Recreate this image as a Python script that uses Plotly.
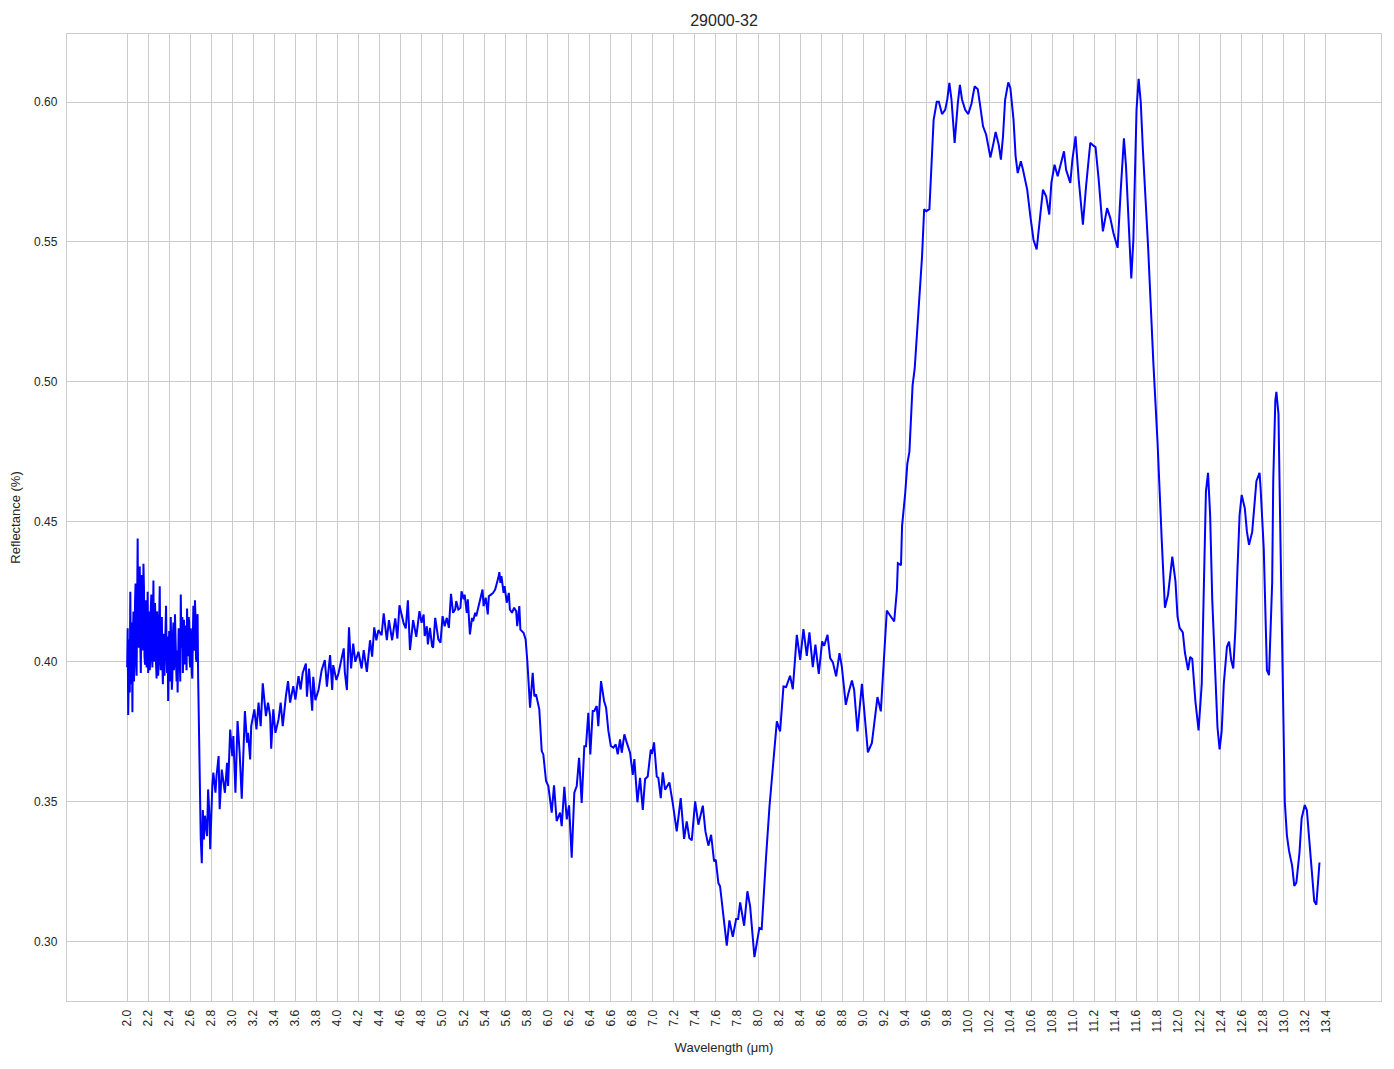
import plotly.graph_objects as go

# ---------------- data ----------------
# segment 1: very noisy start, 2.000-2.670 um
wl_seg1 = [2.000, 2.005, 2.010, 2.015, 2.020, 2.025, 2.030, 2.035, 2.040, 2.045,
           2.050, 2.055, 2.060, 2.065, 2.070, 2.075, 2.080, 2.085, 2.090, 2.095,
           2.100, 2.105, 2.110, 2.115, 2.120, 2.125, 2.130, 2.135, 2.140, 2.145,
           2.150, 2.155, 2.160, 2.165, 2.170, 2.175, 2.180, 2.185, 2.190, 2.195,
           2.200, 2.205, 2.210, 2.215, 2.220, 2.225, 2.230, 2.235, 2.240, 2.245,
           2.250, 2.255, 2.260, 2.265, 2.270, 2.275, 2.280, 2.285, 2.290, 2.295,
           2.300, 2.305, 2.310, 2.315, 2.320, 2.325, 2.330, 2.335, 2.340, 2.345,
           2.350, 2.355, 2.360, 2.365, 2.370, 2.375, 2.380, 2.385, 2.390, 2.395,
           2.400, 2.405, 2.410, 2.415, 2.420, 2.425, 2.430, 2.435, 2.440, 2.445,
           2.450, 2.455, 2.460, 2.465, 2.470, 2.475, 2.480, 2.485, 2.490, 2.495,
           2.500, 2.505, 2.510, 2.515, 2.520, 2.525, 2.530, 2.535, 2.540, 2.545,
           2.550, 2.555, 2.560, 2.565, 2.570, 2.575, 2.580, 2.585, 2.590, 2.595,
           2.600, 2.605, 2.610, 2.615, 2.620, 2.625, 2.630, 2.635, 2.640, 2.645,
           2.650, 2.655, 2.660, 2.665, 2.670]
refl_seg1 = [0.398, 0.412, 0.381, 0.404, 0.408, 0.389, 0.425, 0.401, 0.392, 0.414,
             0.382, 0.409, 0.418, 0.393, 0.401, 0.421, 0.428, 0.403, 0.395, 0.420,
             0.444, 0.412, 0.405, 0.428, 0.434, 0.407, 0.396, 0.419, 0.431, 0.404,
             0.409, 0.435, 0.426, 0.402, 0.399, 0.417, 0.422, 0.398, 0.404, 0.425,
             0.396, 0.409, 0.418, 0.397, 0.401, 0.419, 0.424, 0.405, 0.398, 0.413,
             0.429, 0.400, 0.405, 0.421, 0.415, 0.399, 0.394, 0.418, 0.412, 0.395,
             0.400, 0.415, 0.427, 0.404, 0.397, 0.409, 0.416, 0.399, 0.392, 0.406,
             0.410, 0.395, 0.401, 0.414, 0.420, 0.404, 0.396, 0.409, 0.386, 0.402,
             0.411, 0.393, 0.398, 0.416, 0.403, 0.390, 0.394, 0.409, 0.414, 0.397,
             0.400, 0.417, 0.408, 0.398, 0.393, 0.404, 0.389, 0.401, 0.412, 0.397,
             0.402, 0.393, 0.424, 0.409, 0.405, 0.416, 0.396, 0.404, 0.415, 0.403,
             0.399, 0.413, 0.410, 0.397, 0.419, 0.407, 0.402, 0.416, 0.414, 0.400,
             0.398, 0.412, 0.408, 0.396, 0.394, 0.409, 0.420, 0.404, 0.406, 0.422,
             0.416, 0.401, 0.400, 0.415, 0.417]

# segment 2: drop and noisy rise, 2.675-3.67 um
wl_seg2 = [2.675, 2.685, 2.69, 2.70, 2.71, 2.72, 2.73, 2.74, 2.76, 2.77,
           2.78, 2.79, 2.81, 2.82, 2.84, 2.85, 2.87, 2.88, 2.90, 2.93,
           2.95, 2.96, 2.98, 3.00, 3.01, 3.03, 3.05, 3.07, 3.09, 3.11,
           3.12, 3.14, 3.15, 3.17, 3.18, 3.21, 3.23, 3.25, 3.27, 3.29,
           3.32, 3.34, 3.36, 3.37, 3.39, 3.41, 3.44, 3.46, 3.48, 3.51,
           3.53, 3.55, 3.58, 3.60, 3.63, 3.65, 3.67]
refl_seg2 = [0.395, 0.3675, 0.346, 0.337, 0.328, 0.347, 0.3365, 0.345, 0.3377, 0.3544,
             0.3473, 0.333, 0.3556, 0.3604, 0.3532, 0.3592, 0.3663, 0.3473, 0.3615, 0.3532,
             0.3639, 0.3556, 0.3758, 0.3663, 0.3735, 0.3532, 0.3788, 0.3675, 0.3511, 0.3711,
             0.3824, 0.3711, 0.3746, 0.3651, 0.377, 0.383, 0.3758, 0.3854, 0.377, 0.3923,
             0.3806, 0.3854, 0.3806, 0.3689, 0.383, 0.3746, 0.3794, 0.3854, 0.377, 0.3877,
             0.3931, 0.3854, 0.3913, 0.3865, 0.3949, 0.3901, 0.3961]

# segment 3: 3.70-4.75 um
wl_seg3 = [3.70, 3.71, 3.73, 3.76, 3.77, 3.79, 3.82, 3.85, 3.88, 3.90,
           3.93, 3.95, 3.96, 3.99, 4.01, 4.04, 4.06, 4.07, 4.09, 4.11,
           4.13, 4.15, 4.17, 4.20, 4.23, 4.25, 4.28, 4.31, 4.33, 4.35,
           4.37, 4.39, 4.42, 4.44, 4.47, 4.49, 4.52, 4.55, 4.57, 4.59,
           4.63, 4.65, 4.67, 4.69, 4.72, 4.75]
refl_seg3 = [0.3994, 0.3875, 0.3976, 0.3825, 0.3946, 0.3863, 0.3899, 0.397, 0.4006, 0.3911,
             0.4024, 0.3899, 0.3988, 0.3935, 0.3958, 0.4006, 0.4048, 0.3964, 0.3899, 0.4123,
             0.3976, 0.4065, 0.4000, 0.4036, 0.3976, 0.4042, 0.3964, 0.4077, 0.4018, 0.4123,
             0.4077, 0.4113, 0.4095, 0.4173, 0.4077, 0.4149, 0.4077, 0.4155, 0.4083, 0.4202,
             0.4137, 0.4119, 0.422, 0.4042, 0.4149, 0.4089]

# segment 4: 4.78-5.79 um
wl_seg4 = [4.78, 4.80, 4.82, 4.83, 4.85, 4.86, 4.88, 4.90, 4.91, 4.93,
           4.94, 4.96, 4.98, 5.00, 5.02, 5.04, 5.06, 5.08, 5.10, 5.12,
           5.13, 5.15, 5.17, 5.18, 5.20, 5.21, 5.23, 5.24, 5.26, 5.28,
           5.29, 5.31, 5.32, 5.35, 5.36, 5.38, 5.39, 5.41, 5.43, 5.44,
           5.46, 5.48, 5.50, 5.51, 5.53, 5.54, 5.55, 5.56, 5.58, 5.59,
           5.61, 5.63, 5.64, 5.66, 5.68, 5.70, 5.71, 5.73, 5.74, 5.77,
           5.79]
refl_seg4 = [0.4181, 0.4139, 0.4169, 0.4092, 0.4127, 0.4062, 0.4121, 0.4056, 0.405, 0.4157,
             0.4127, 0.408, 0.4068, 0.4163, 0.4127, 0.4157, 0.4121, 0.4243, 0.4175, 0.4187,
             0.4217, 0.4187, 0.4193, 0.4252, 0.4223, 0.424, 0.4175, 0.4223, 0.4098, 0.4157,
             0.4145, 0.4175, 0.4163, 0.4211, 0.4229, 0.4258, 0.4199, 0.4229, 0.4169, 0.4234,
             0.424, 0.4246, 0.4258, 0.427, 0.430, 0.432, 0.4282, 0.4306, 0.4246, 0.427,
             0.4211, 0.4246, 0.4187, 0.4175, 0.4193, 0.4181, 0.4127, 0.4199, 0.4115, 0.4104,
             0.408]

# segment 5: 5.80-6.78 um
wl_seg5 = [5.806, 5.832, 5.857, 5.873, 5.889, 5.920, 5.943, 5.958, 5.984, 6.006,
           6.038, 6.060, 6.085, 6.117, 6.133, 6.158, 6.181, 6.203, 6.228, 6.253,
           6.276, 6.298, 6.323, 6.348, 6.364, 6.386, 6.405, 6.428, 6.443, 6.466,
           6.481, 6.507, 6.536, 6.555, 6.577, 6.600, 6.624, 6.647, 6.666, 6.688,
           6.704, 6.729, 6.752, 6.783]
refl_seg5 = [0.4002, 0.3836, 0.3961, 0.3877, 0.3883, 0.3830, 0.3681, 0.3669, 0.3574, 0.3556,
             0.3461, 0.3559, 0.3431, 0.3461, 0.3413, 0.3553, 0.3437, 0.3487, 0.3300, 0.3532,
             0.3556, 0.3657, 0.3496, 0.3698, 0.3698, 0.3818, 0.3669, 0.3824, 0.3824, 0.3842,
             0.3770, 0.3931, 0.3860, 0.3836, 0.3753, 0.3699, 0.3693, 0.3705, 0.3669, 0.3723,
             0.3675, 0.3741, 0.3711, 0.3675]

# segment 6: 6.81-8.01 um
wl_seg6 = [6.809, 6.824, 6.853, 6.878, 6.904, 6.926, 6.951, 6.980, 6.992, 7.011,
           7.037, 7.052, 7.075, 7.094, 7.116, 7.157, 7.189, 7.227, 7.265, 7.297,
           7.322, 7.347, 7.370, 7.402, 7.433, 7.475, 7.500, 7.528, 7.554, 7.582,
           7.598, 7.623, 7.639, 7.671, 7.703, 7.728, 7.760, 7.792, 7.811, 7.830,
           7.868, 7.899, 7.925, 7.966, 8.013]
refl_seg6 = [0.3596, 0.3652, 0.3498, 0.3585, 0.3471, 0.3581, 0.3590, 0.3686, 0.3671, 0.3712,
             0.3590, 0.3585, 0.3513, 0.3605, 0.3543, 0.3569, 0.3495, 0.3394, 0.3513, 0.3367,
             0.3430, 0.3370, 0.3362, 0.3501, 0.3418, 0.3486, 0.3394, 0.3343, 0.3382, 0.3287,
             0.3293, 0.3210, 0.3198, 0.3102, 0.2986, 0.3076, 0.3017, 0.3081, 0.3081, 0.3140,
             0.3057, 0.3180, 0.3126, 0.2945, 0.3049]

# segment 7: 8.03-9.32 um
wl_seg7 = [8.035, 8.058, 8.077, 8.109, 8.131, 8.153, 8.179, 8.210, 8.242, 8.267,
           8.305, 8.331, 8.369, 8.401, 8.432, 8.464, 8.489, 8.521, 8.546, 8.578,
           8.610, 8.629, 8.661, 8.686, 8.712, 8.743, 8.775, 8.797, 8.835, 8.860,
           8.893, 8.914, 8.946, 8.988, 9.010, 9.045, 9.083, 9.136, 9.168, 9.200,
           9.225, 9.263, 9.295, 9.321]
refl_seg7 = [0.3045, 0.3210, 0.3305, 0.3483, 0.3579, 0.3662, 0.3787, 0.3751, 0.3912, 0.3910,
             0.3950, 0.3902, 0.4096, 0.4007, 0.4117, 0.4021, 0.4105, 0.3981, 0.4061, 0.3957,
             0.4073, 0.4057, 0.4096, 0.4013, 0.3998, 0.3948, 0.4031, 0.3983, 0.3846, 0.3888,
             0.3933, 0.3900, 0.3751, 0.3921, 0.3829, 0.3676, 0.3710, 0.3874, 0.3823, 0.4037,
             0.4183, 0.4162, 0.4144, 0.4257]

# segment 8: 9.33-10.29 um
wl_seg8 = [9.33, 9.36, 9.37, 9.40, 9.42, 9.44, 9.45, 9.47, 9.49, 9.51,
           9.53, 9.56, 9.58, 9.60, 9.63, 9.65, 9.67, 9.70, 9.72, 9.75,
           9.78, 9.80, 9.82, 9.84, 9.86, 9.87, 9.90, 9.92, 9.94, 9.97,
           10.00, 10.03, 10.06, 10.09, 10.11, 10.14, 10.17, 10.19, 10.21, 10.24,
           10.26, 10.29]
refl_seg8 = [0.4352, 0.4345, 0.4485, 0.4603, 0.4707, 0.4751, 0.4855, 0.4988, 0.5047, 0.5166,
             0.5299, 0.5447, 0.5617, 0.5610, 0.5617, 0.5787, 0.5935, 0.6001, 0.6001, 0.5957,
             0.5972, 0.6009, 0.6068, 0.6009, 0.5905, 0.5854, 0.5994, 0.6061, 0.6009, 0.5972,
             0.5957, 0.5994, 0.6056, 0.6046, 0.5994, 0.5913, 0.5883, 0.5839, 0.5802, 0.5854,
             0.5893, 0.5846]

# segment 9: 10.31-11.45 um
wl_seg9 = [10.31, 10.33, 10.35, 10.38, 10.40, 10.43, 10.45, 10.47, 10.50, 10.52,
           10.56, 10.59, 10.62, 10.65, 10.67, 10.71, 10.74, 10.77, 10.79, 10.82,
           10.85, 10.91, 10.93, 10.97, 10.99, 11.02, 11.05, 11.09, 11.12, 11.16,
           11.19, 11.21, 11.24, 11.28, 11.32, 11.35, 11.38, 11.42, 11.45]
refl_seg9 = [0.5794, 0.5877, 0.6008, 0.6070, 0.6050, 0.5937, 0.5806, 0.5746, 0.5788, 0.5758,
             0.5687, 0.5592, 0.5508, 0.5473, 0.5544, 0.5687, 0.5663, 0.5598, 0.5711, 0.5776,
             0.5735, 0.5824, 0.5758, 0.5711, 0.5794, 0.5877, 0.5723, 0.5562, 0.5699, 0.5854,
             0.5844, 0.5839, 0.5723, 0.5538, 0.5621, 0.5586, 0.5532, 0.5479, 0.5687]

# segment 10: 11.48-12.19 um
wl_seg10 = [11.48, 11.50, 11.53, 11.55, 11.57, 11.60, 11.62, 11.64, 11.66, 11.71,
            11.76, 11.80, 11.84, 11.87, 11.90, 11.94, 11.97, 11.99, 12.01, 12.04,
            12.06, 12.09, 12.11, 12.13, 12.16, 12.19]
refl_seg10 = [0.5870, 0.5770, 0.5544, 0.5370, 0.5508, 0.5973, 0.6083, 0.6000, 0.5833, 0.5482,
              0.5068, 0.4782, 0.4432, 0.4193, 0.4240, 0.4376, 0.4288, 0.4161, 0.4121, 0.4105,
              0.4033, 0.3970, 0.4017, 0.4010, 0.3858, 0.3755]

# segment 11: 12.22-13.34 um
wl_seg11 = [12.22, 12.24, 12.26, 12.28, 12.30, 12.32, 12.35, 12.37, 12.39, 12.41,
            12.43, 12.46, 12.48, 12.50, 12.52, 12.54, 12.56, 12.58, 12.60, 12.63,
            12.65, 12.67, 12.70, 12.72, 12.74, 12.77, 12.78, 12.81, 12.83, 12.84,
            12.86, 12.89, 12.90, 12.92, 12.93, 12.95, 12.97, 12.99, 13.01, 13.03,
            13.05, 13.08, 13.10, 13.12, 13.15, 13.17, 13.20, 13.22, 13.24, 13.27,
            13.29, 13.31, 13.32, 13.34]
refl_seg11 = [0.3920, 0.4283, 0.4608, 0.4675, 0.4524, 0.4223, 0.3982, 0.3765, 0.3687, 0.3753,
              0.3922, 0.4054, 0.4072, 0.4006, 0.3976, 0.4114, 0.4331, 0.4524, 0.4596, 0.4548,
              0.4464, 0.4418, 0.4464, 0.4560, 0.4645, 0.4675, 0.4620, 0.4404, 0.4102, 0.3970,
              0.3952, 0.4283, 0.4645, 0.4934, 0.4964, 0.4886, 0.4404, 0.3922, 0.3500, 0.3380,
              0.3325, 0.3271, 0.3199, 0.3211, 0.3319, 0.3440, 0.3488, 0.3470, 0.3380, 0.3247,
              0.3145, 0.3132, 0.3187, 0.3283]

x_tick_vals = [2.0, 2.2, 2.4, 2.6, 2.8, 3.0, 3.2, 3.4, 3.6, 3.8, 4.0, 4.2, 4.4, 4.6,
               4.8, 5.0, 5.2, 5.4, 5.6, 5.8, 6.0, 6.2, 6.4, 6.6, 6.8, 7.0, 7.2, 7.4,
               7.6, 7.8, 8.0, 8.2, 8.4, 8.6, 8.8, 9.0, 9.2, 9.4, 9.6, 9.8, 10.0, 10.2,
               10.4, 10.6, 10.8, 11.0, 11.2, 11.4, 11.6, 11.8, 12.0, 12.2, 12.4, 12.6,
               12.8, 13.0, 13.2, 13.4]
y_tick_vals = [0.30, 0.35, 0.40, 0.45, 0.50, 0.55, 0.60]

TITLE = "29000-32"
X_LABEL = "Wavelength (μm)"
Y_LABEL = "Reflectance (%)"

# ---------------- assemble ----------------
wl_segments = [wl_seg1, wl_seg2, wl_seg3, wl_seg4, wl_seg5, wl_seg6,
               wl_seg7, wl_seg8, wl_seg9, wl_seg10, wl_seg11]
refl_segments = [refl_seg1, refl_seg2, refl_seg3, refl_seg4, refl_seg5, refl_seg6,
                 refl_seg7, refl_seg8, refl_seg9, refl_seg10, refl_seg11]
wavelength, reflectance = [], []
for i, (w, r) in enumerate(zip(wl_segments, refl_segments)):
    assert len(w) == len(r), (i, len(w), len(r))
    wavelength.extend(w)
    reflectance.extend(r)

TEXT = "#262626"
GRID = "#cccccc"
FONT = "Arial, 'Liberation Sans', sans-serif"

# the page body adds an 8px offset, so the figure is 8px smaller on each axis
FIG_W, FIG_H = 1386, 1061

fig = go.Figure()
fig.add_trace(go.Scatter(x=wavelength, y=reflectance, mode="lines",
                         line=dict(color="#0000ff", width=2), showlegend=False))

fig.update_layout(
    width=FIG_W, height=FIG_H,
    paper_bgcolor="white", plot_bgcolor="white",
    margin=dict(l=59, r=13, t=26, b=68, pad=0),
    font=dict(family=FONT, color=TEXT, size=12),
    title=dict(text=TITLE, x=0.5, xref="paper", xanchor="center",
               y=1 - 12 / FIG_H, yref="container", yanchor="middle",
               font=dict(size=16, color=TEXT, family=FONT)),
)
fig.update_xaxes(
    range=[1.428, 13.925], tickmode="array", tickvals=x_tick_vals,
    ticktext=[f"{v:.1f}" for v in x_tick_vals], tickangle=-90,
    showgrid=True, gridcolor=GRID, gridwidth=1, zeroline=False,
    showline=True, linecolor=GRID, linewidth=1.25, mirror=True,
    ticks="", ticklabelstandoff=3, automargin=False,
    tickfont=dict(size=12, color=TEXT, family=FONT),
    title=dict(text=X_LABEL, standoff=10, font=dict(size=13, color=TEXT, family=FONT)),
)
fig.update_yaxes(
    range=[0.2788, 0.6243], tickmode="array", tickvals=y_tick_vals,
    ticktext=[f"{v:.2f}" for v in y_tick_vals],
    showgrid=True, gridcolor=GRID, gridwidth=1, zeroline=False,
    showline=True, linecolor=GRID, linewidth=1.25, mirror=True,
    ticks="", ticklabelstandoff=6, automargin=False,
    tickfont=dict(size=12, color=TEXT, family=FONT),
    title=dict(text=Y_LABEL, standoff=10, font=dict(size=13, color=TEXT, family=FONT)),
)

fig.write_html("out.html")
